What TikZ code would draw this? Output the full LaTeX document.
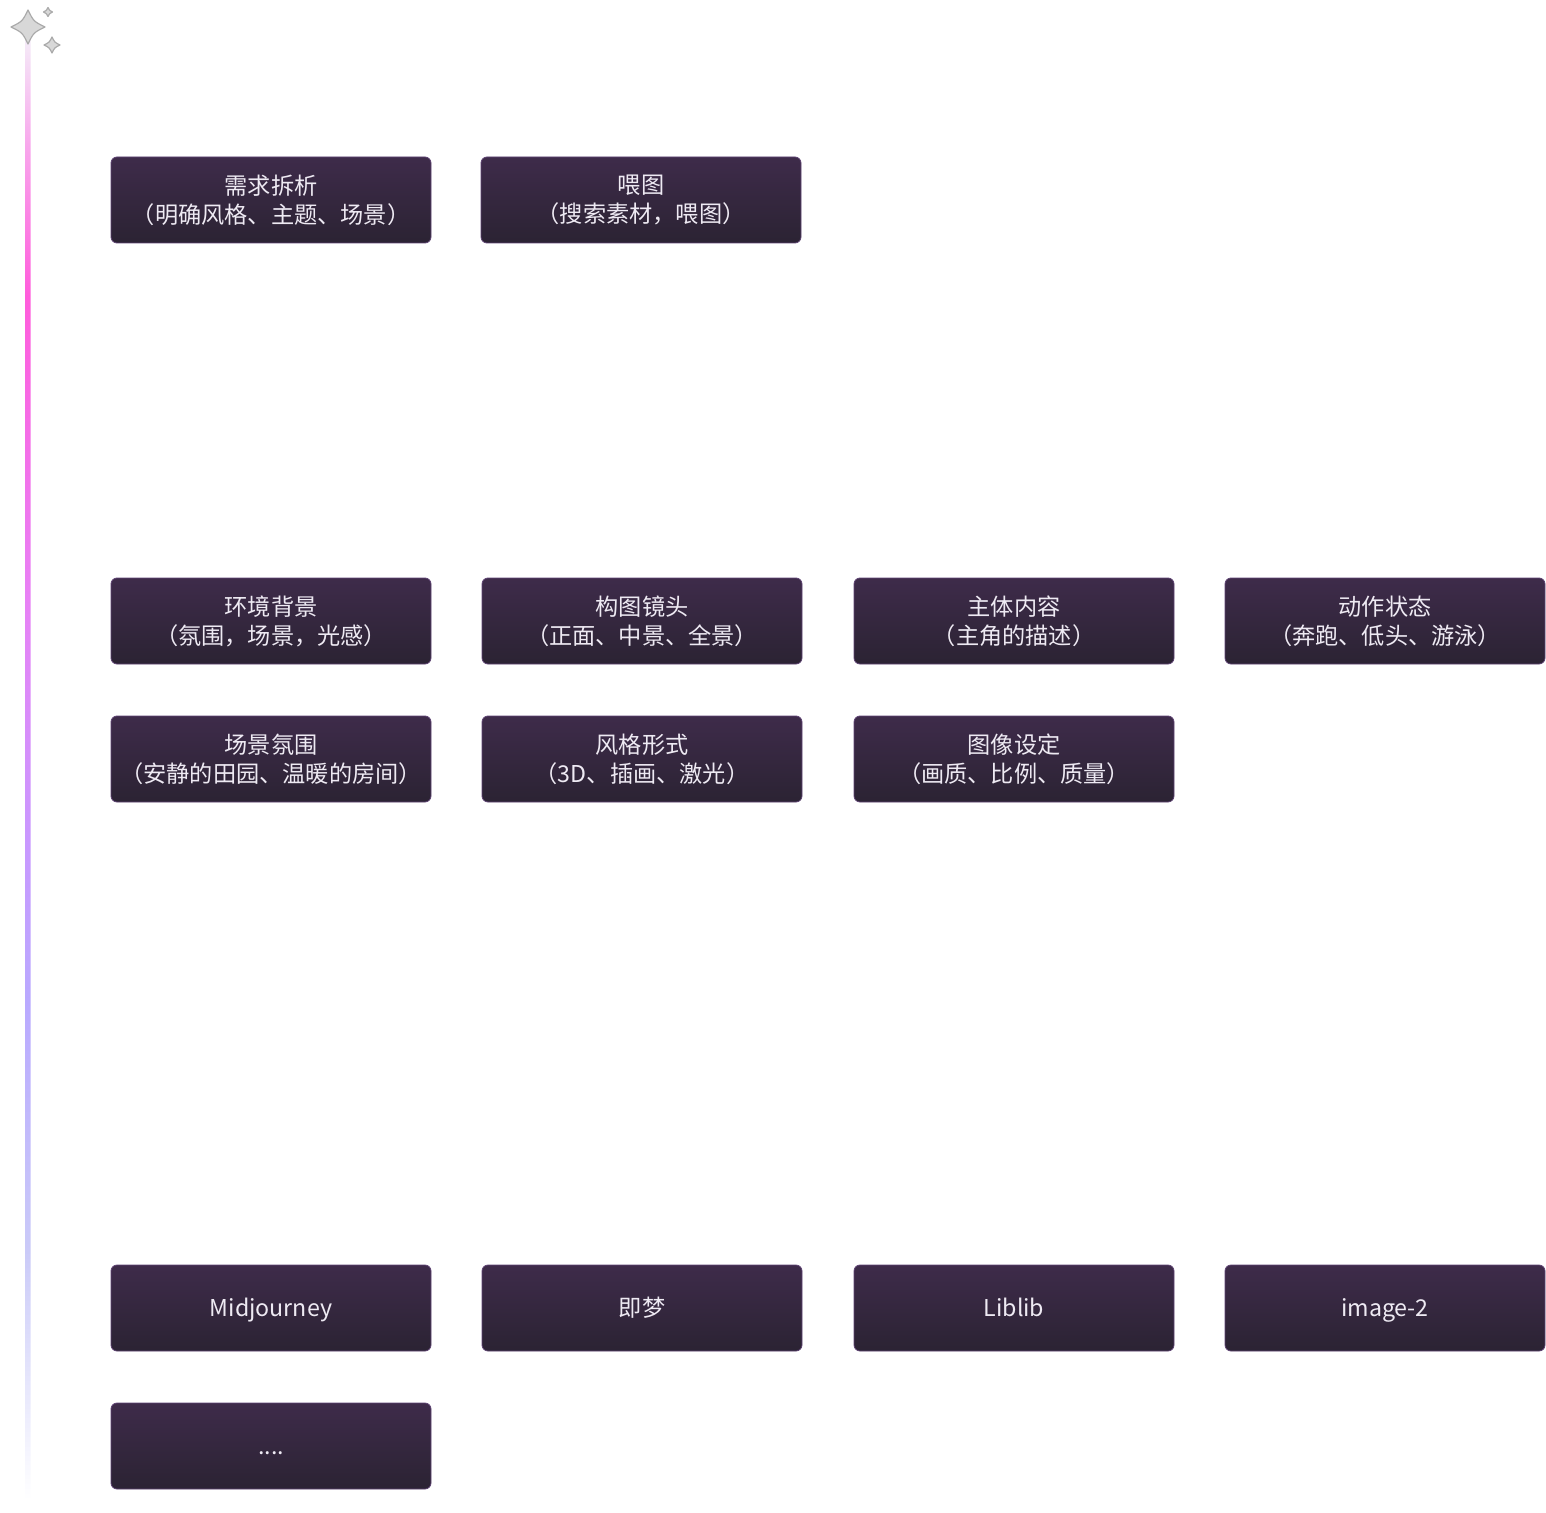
\documentclass[tikz,border=0pt]{standalone}
\usepackage{fontspec}
\setmainfont{Noto Sans CJK SC}
\usetikzlibrary{shadings}
\definecolor{cardtop}{HTML}{3E2B4A}
\definecolor{cardbottom}{HTML}{2B2333}
\definecolor{cardedge}{HTML}{5E4373}
\definecolor{cardtext}{HTML}{EEEAF3}
\definecolor{starfill}{HTML}{D8D8D8}
\definecolor{staredge}{HTML}{ABABAB}
\definecolor{lineA}{HTML}{F4EEF8}
\definecolor{lineB}{HTML}{F8A6EC}
\definecolor{lineC}{HTML}{FF5CDB}
\definecolor{lineD}{HTML}{E880F5}
\definecolor{lineE}{HTML}{C898FF}
\definecolor{lineF}{HTML}{B9A9FF}
\definecolor{lineG}{HTML}{CACAF8}
\pgfdeclareverticalshading{timeline}{100bp}{color(0bp)=(white); color(25bp)=(white);
  color(33.5bp)=(lineG); color(42bp)=(lineF); color(47.3bp)=(lineE);
  color(55.8bp)=(lineD); color(66.1bp)=(lineC); color(71.2bp)=(lineB);
  color(75bp)=(lineA); color(100bp)=(lineA)}

\begin{document}
\begin{tikzpicture}[
  x=0.5pt, y=-0.5pt,
  card/.style={rectangle, rounded corners=3pt, minimum width=160pt, minimum height=43pt, inner sep=0pt,
    draw=cardedge, line width=0.4pt, top color=cardtop, bottom color=cardbottom,
    text=cardtext, align=center, font=\fontsize{11.6}{14.5}\selectfont},
  single/.style={card, text height=10pt, text depth=1.6pt},
  sparkle/.style={fill=starfill, draw=staredge, line width=0.6pt, line join=round}
]
  \useasboundingbox (0,0) rectangle (1546,1513);
  % timeline
  \shade[shading=timeline, rounded corners=1.2pt] (25.5,35) rectangle (30.5,1500);
  \foreach \sx/\sy/\sr in {28/27/17, 52/45/8, 48/12/4.5}
    \draw[sparkle] (\sx,\sy-\sr) .. controls (\sx+0.33*\sr,\sy-0.33*\sr) .. (\sx+\sr,\sy)
      .. controls (\sx+0.33*\sr,\sy+0.33*\sr) .. (\sx,\sy+\sr)
      .. controls (\sx-0.33*\sr,\sy+0.33*\sr) .. (\sx-\sr,\sy)
      .. controls (\sx-0.33*\sr,\sy-0.33*\sr) .. cycle;
  % step 1
  \node[card] (need) at (271,200) {需求拆析\\（明确风格、主题、场景）};
  \node[card] (feed) at (641,200) {喂图\\（搜索素材，喂图）};
  % step 2
  \node[card] (env) at (271,621) {环境背景\\（氛围，场景，光感）};
  \node[card] (shot) at (642,621) {构图镜头\\（正面、中景、全景）};
  \node[card] (subj) at (1014,621) {主体内容\\（主角的描述）};
  \node[card] (act) at (1385,621) {动作状态\\（奔跑、低头、游泳）};
  \node[card] (mood) at (271,759) {场景氛围\\（安静的田园、温暖的房间）};
  \node[card] (style) at (642,759) {风格形式\\（3D、插画、激光）};
  \node[card] (img) at (1014,759) {图像设定\\（画质、比例、质量）};
  % step 3
  \node[single] (mj) at (271,1308) {Midjourney};
  \node[single] (jm) at (642,1308) {即梦};
  \node[single] (lib) at (1014,1308) {Liblib};
  \node[single] (im2) at (1385,1308) {image-2};
  \node[single] (more) at (271,1446) {....};
\end{tikzpicture}
\end{document}
